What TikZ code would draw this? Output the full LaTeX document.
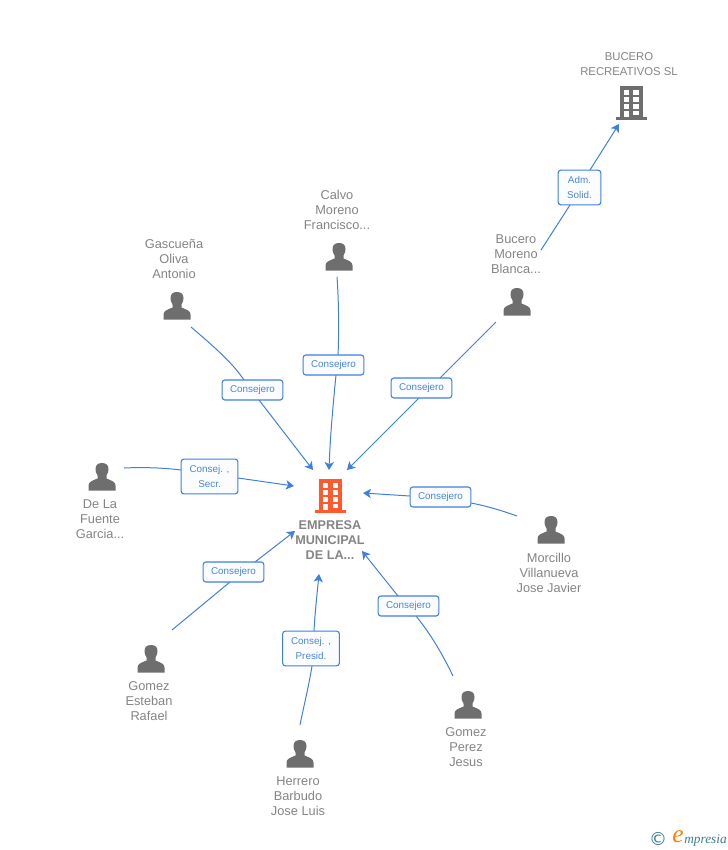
\documentclass[tikz,border=0pt]{standalone}
\usepackage{fontspec}
\setmainfont{Liberation Sans}
\newfontfamily\logofont{Liberation Serif}
\newfontfamily\copyfont{DejaVu Sans}
\usetikzlibrary{backgrounds,arrows.meta,calc}
\definecolor{linkblue}{HTML}{3F7FE0}
\definecolor{txtblue}{HTML}{4A86DC}
\definecolor{icongray}{HTML}{6E6E6E}
\definecolor{txtgray}{HTML}{848484}
\definecolor{orangeb}{HTML}{FF5A2E}
\definecolor{teallogo}{HTML}{3C7F96}
\definecolor{boxfill}{HTML}{FBFCFE}
\tikzset{
  x=0.75pt,y=-0.75pt,
  personlabel/.style={text=txtgray,font=\fontsize{9.6}{11.25}\selectfont,align=center,inner sep=0pt,anchor=center},
  mainlabel/.style={personlabel,font=\fontsize{9.5}{11.25}\selectfont\bfseries},
  companylabel/.style={personlabel,font=\fontsize{8.5}{11.25}\selectfont},
  rolebox/.style={draw=linkblue,fill=boxfill,rounded corners=2pt,line width=0.8pt,text=txtblue,
    font=\fontsize{7.4}{11.25}\selectfont,align=center,inner sep=0pt,minimum height=15pt,minimum width=45.5pt},
  rolebox2/.style={rolebox,minimum height=26pt,minimum width=42.5pt},
  roleboxn/.style={rolebox2,minimum width=32pt},
  link/.style={draw=linkblue,line width=0.75pt},
  linkend/.style={link,-{Stealth[length=6pt,width=7pt,inset=1.6pt]}},
}
% person icon centred at given pixel position
\newcommand{\personicon}[3]{%
  \node[minimum size=0pt,inner sep=0pt] (#3) at (#1,#2) {};
  \fill[icongray,shift={(#1,#2)}]
    (-13.5,13.5) -- (-13.5,8.5) .. controls (-13.5,4.5) and (-9,3.5) .. (-4.5,1.5)
    -- (-4.5,-1.5) .. controls (-6,-3.5) and (-6.5,-6) .. (-6.5,-8)
    .. controls (-6.5,-12) and (-4,-14) .. (0,-14)
    .. controls (4,-14) and (6.5,-12) .. (6.5,-8)
    .. controls (6.5,-6) and (6,-3.5) .. (4.5,-1.5)
    -- (4.5,1.5) .. controls (9,3.5) and (13.5,4.5) .. (13.5,8.5) -- (13.5,13.5) -- cycle;
}
% building icon centred at given pixel position
\newcommand{\buildingicon}[4]{%
  \node[minimum size=0pt,inner sep=0pt] (#4) at (#1,#2) {};
  \begin{scope}[shift={(#1,#2)}]
    \fill[#3] (-11.5,-17) rectangle (11.5,15);
    \foreach \yy in {-13,-6,1} {
      \fill[white] (-7.5,\yy) rectangle (-2.5,\yy+4.5);
      \fill[white] (2,\yy) rectangle (7.5,\yy+4.5);
    }
    \fill[white] (-7.5,7.5) rectangle (-2.5,15);
    \fill[white] (2,7.5) rectangle (7.5,12);
    \fill[#3] (-15.5,14) rectangle (15.5,17);
  \end{scope}
}
\begin{document}
\begin{tikzpicture}
\useasboundingbox (0,0) rectangle (728,850);
% icons
\buildingicon{330.5}{496}{orangeb}{main}
\buildingicon{631}{103}{icongray}{bucerosl}
\personicon{517}{302}{bucero}
\personicon{339}{257}{calvo}
\personicon{177}{306}{gascuena}
\personicon{102}{477}{delafuente}
\personicon{551}{530}{morcillo}
\personicon{151}{659}{gomeze}
\personicon{300}{754}{herrero}
\personicon{468}{705}{gomezp}
% labels
\node[mainlabel] (mainl) at (330,540) {EMPRESA\\MUNICIPAL\\DE LA...};
\node[companylabel] (buceroll) at (629,64.5) {BUCERO\\RECREATIVOS SL};
\node[personlabel] (calvol) at (337,209.5) {Calvo\\Moreno\\Francisco...};
\node[personlabel] (gascuenal) at (174,258.5) {Gascueña\\Oliva\\Antonio};
\node[personlabel] (bucerol) at (516,254.5) {Bucero\\Moreno\\Blanca...};
\node[personlabel] (delafuentel) at (100,519.5) {De La\\Fuente\\Garcia...};
\node[personlabel] (morcillol) at (549,572.5) {Morcillo\\Villanueva\\Jose Javier};
\node[personlabel] (gomezel) at (149,701.5) {Gomez\\Esteban\\Rafael};
\node[personlabel] (herrerol) at (298,796.5) {Herrero\\Barbudo\\Jose Luis};
\node[personlabel] (gomezpl) at (466,747.5) {Gomez\\Perez\\Jesus};
% role boxes
\node[roleboxn] (r1) at (579.5,187.5) {Adm.\\Solid.};
\node[rolebox] (r2) at (333.5,365) {Consejero};
\node[rolebox] (r3) at (252.5,390) {Consejero};
\node[rolebox] (r4) at (421.5,388) {Consejero};
\node[rolebox2] (r5) at (209.5,476.5) {Consej. ,\\Secr.};
\node[rolebox] (r6) at (440.5,497) {Consejero};
\node[rolebox] (r7) at (233.5,572) {Consejero};
\node[rolebox2] (r8) at (311,648.5) {Consej. ,\\Presid.};
\node[rolebox] (r9) at (408.5,606) {Consejero};
% free connector ends
\coordinate (s1) at (541,250);   \coordinate (e1) at (619,124);
\coordinate (s2) at (337,277);   \coordinate (e2) at (329,470);
\coordinate (s3) at (191,327);   \coordinate (e3) at (313,470);
\coordinate (s4) at (496,322);   \coordinate (e4) at (347,470);
\coordinate (s5) at (124,468);   \coordinate (e5) at (294,486);
\coordinate (s6) at (517,516);   \coordinate (e6) at (363,493);
\coordinate (s7) at (172,630);   \coordinate (e7) at (295,531);
\coordinate (s8) at (300,725);   \coordinate (e8) at (319,574);
\coordinate (s9) at (453,676);   \coordinate (e9) at (362,551);
\begin{scope}[on background layer]
  \draw[link] (s1) -- ($(r1.center)+(-9.5,17.5)$);
  \draw[linkend] ($(r1.center)+(10.5,-17.5)$) -- (e1);
  \draw[link] (s2) .. controls (339,305) and (339,335) .. ($(r2.center)+(4.5,-10)$);
  \draw[linkend] ($(r2.center)+(2.5,10)$) .. controls (333,405) and (330,440) .. (e2);
  \draw[link] (s3) .. controls (212,345) and (232,362) .. ($(r3.center)+(-8.5,-10)$);
  \draw[linkend] ($(r3.center)+(6.5,10)$) -- (e3);
  \draw[link] (s4) -- ($(r4.center)+(18.5,-10)$);
  \draw[linkend] ($(r4.center)+(-2.5,10)$) -- (e4);
  \draw[link] (s5) .. controls (145,467) and (165,468) .. ($(r5.center)+(-28.5,-6.5)$);
  \draw[linkend] ($(r5.center)+(28.5,1.5)$) -- (e5);
  \draw[link] (s6) .. controls (503,511) and (487,506) .. ($(r6.center)+(30.5,6)$);
  \draw[linkend] ($(r6.center)+(-30.5,-1)$) -- (e6);
  \draw[link] (s7) -- ($(r7.center)+(-3.5,10)$);
  \draw[linkend] ($(r7.center)+(21.5,-10)$) -- (e7);
  \draw[link] (s8) .. controls (304,705) and (309,685) .. ($(r8.center)+(1,17.5)$);
  \draw[linkend] ($(r8.center)+(3,-17.5)$) .. controls (315,612) and (317,595) .. (e8);
  \draw[link] (s9) .. controls (443,655) and (430,633) .. ($(r9.center)+(7.5,10)$);
  \draw[linkend] ($(r9.center)+(-10.5,-10)$) -- (e9);
\end{scope}
% logo
\node[inner sep=0pt,text=teallogo,font=\copyfont\fontsize{13.5}{13.5}\selectfont] (copy) at (658,839) {©};
\node[inner sep=0pt,text=orange,font=\logofont\itshape\fontsize{19}{19}\selectfont] (loge) at (678,836.5) {e};
\node[inner sep=0pt,anchor=west,text=teallogo,font=\logofont\itshape\fontsize{10}{11}\selectfont] (logt) at (684,840) {mpresia};
\end{tikzpicture}
\end{document}
